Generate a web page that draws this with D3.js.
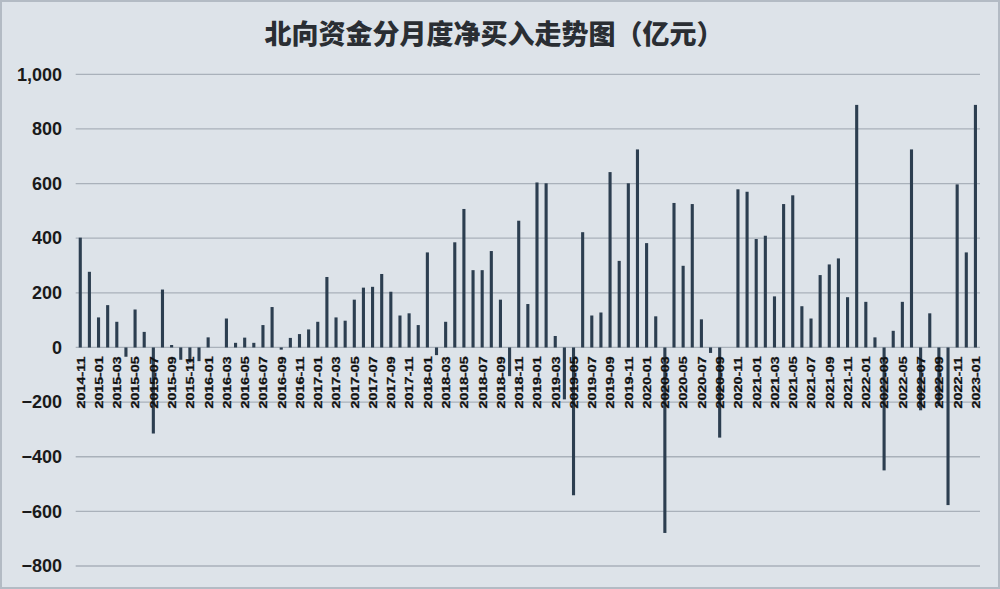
<!DOCTYPE html>
<html>
<head>
<meta charset="utf-8">
<script src="https://cdn.jsdelivr.net/npm/d3@7"></script>
<style>
  html, body { margin: 0; padding: 0; background: #dde3e9; }
  svg { display: block; }
</style>
</head>
<body>
<svg id="chart" width="1000" height="589"></svg>
<script>
// ---- Data ----
const months = [
  "2014-11","2014-12",
  "2015-01","2015-02","2015-03","2015-04","2015-05","2015-06","2015-07","2015-08","2015-09","2015-10","2015-11","2015-12",
  "2016-01","2016-02","2016-03","2016-04","2016-05","2016-06","2016-07","2016-08","2016-09","2016-10","2016-11","2016-12",
  "2017-01","2017-02","2017-03","2017-04","2017-05","2017-06","2017-07","2017-08","2017-09","2017-10","2017-11","2017-12",
  "2018-01","2018-02","2018-03","2018-04","2018-05","2018-06","2018-07","2018-08","2018-09","2018-10","2018-11","2018-12",
  "2019-01","2019-02","2019-03","2019-04","2019-05","2019-06","2019-07","2019-08","2019-09","2019-10","2019-11","2019-12",
  "2020-01","2020-02","2020-03","2020-04","2020-05","2020-06","2020-07","2020-08","2020-09","2020-10","2020-11","2020-12",
  "2021-01","2021-02","2021-03","2021-04","2021-05","2021-06","2021-07","2021-08","2021-09","2021-10","2021-11","2021-12",
  "2022-01","2022-02","2022-03","2022-04","2022-05","2022-06","2022-07","2022-08","2022-09","2022-10","2022-11","2022-12",
  "2023-01"
];
const netBuy = [
  402, 277,
  110, 155, 94, -34, 139, 57, -315, 212, 9, -45, -55, -50,
  37, 0, 106, 17, 36, 17, 82, 148, -8, 35, 49, 66,
  94, 258, 110, 98, 175, 219, 222, 269, 204, 117, 125, 82,
  348, -28, 94, 385, 507, 283, 283, 353, 175, -105, 464, 159,
  604, 601, 42, -190, -541, 422, 117, 128, 642, 317, 601, 725,
  382, 114, -679, 529, 299, 525, 103, -20, -330, 0, 579, 570,
  397, 409, 187, 525, 557, 151, 106, 265, 304, 326, 184, 888,
  167, 37, -450, 61, 167, 725, -230, 125, -215, -577, 597, 348,
  888
];
const yTicks = [-800, -600, -400, -200, 0, 200, 400, 600, 800, 1000];
const tickLabels = months.filter((d, i) => i % 2 === 0);
const titleText = "北向资金分月度净买入走势图（亿元）";

// ---- Layout ----
const W = 1000, H = 589;
const mLeft = 75.7, mRight = 980, mTop = 74.3, mBottom = 566;

const svg = d3.select("#chart");

svg.append("rect")
  .attr("x", 1).attr("y", 1).attr("width", W - 2).attr("height", H - 2)
  .attr("fill", "#dde3e9").attr("stroke", "#b3bbc4").attr("stroke-width", 2);

const x = d3.scaleBand().domain(months).range([mLeft, mRight])
  .paddingInner(0.66).paddingOuter(0.33);
const y = d3.scaleLinear().domain([-800, 1000]).range([mBottom, mTop]);

// gridlines
svg.append("g").selectAll("line").data(yTicks).join("line")
  .attr("x1", mLeft).attr("x2", mRight)
  .attr("y1", d => y(d)).attr("y2", d => y(d))
  .attr("stroke", "#a9b1ba").attr("stroke-width", 1.3);

// y axis labels
const yAxis = d3.axisLeft(y).tickValues(yTicks).tickSize(0).tickPadding(0)
  .tickFormat(d3.format(","));
const gy = svg.append("g").attr("transform", `translate(62,0)`).call(yAxis);
gy.select(".domain").remove();
gy.selectAll("text")
  .attr("font-family", "Liberation Sans, Arial, sans-serif")
  .attr("font-size", 18).attr("font-weight", "bold").attr("fill", "#1a1a1a");

// bars
svg.append("g").selectAll("rect").data(months).join("rect")
  .attr("x", d => x(d))
  .attr("width", x.bandwidth())
  .attr("y", (d, i) => y(Math.max(0, netBuy[i])))
  .attr("height", (d, i) => Math.abs(y(netBuy[i]) - y(0)))
  .attr("fill", "#2c3e50");

// x labels (every other month)
const gx = svg.append("g");
gx.selectAll("text").data(tickLabels).join("text")
  .attr("transform", d => `translate(${x(d) + x.bandwidth() / 2 + 0.5},${y(0) + 9}) rotate(-90)`)
  .attr("text-anchor", "end")
  .attr("dy", "0.35em")
  .attr("font-family", "Liberation Sans, Arial, sans-serif")
  .attr("font-size", 11).attr("font-weight", "bold").attr("fill", "#111")
  .attr("stroke", "#111").attr("stroke-width", 0.3)
  .attr("textLength", 52).attr("lengthAdjust", "spacingAndGlyphs")
  .text(d => d);

// title
svg.append("text")
  .attr("x", 494).attr("y", 44)
  .attr("text-anchor", "middle")
  .attr("font-family", "Noto Sans CJK SC, sans-serif")
  .attr("font-size", 27).attr("font-weight", 900).attr("fill", "#2a2e33")
  .text(titleText);
</script>
</body>
</html>
